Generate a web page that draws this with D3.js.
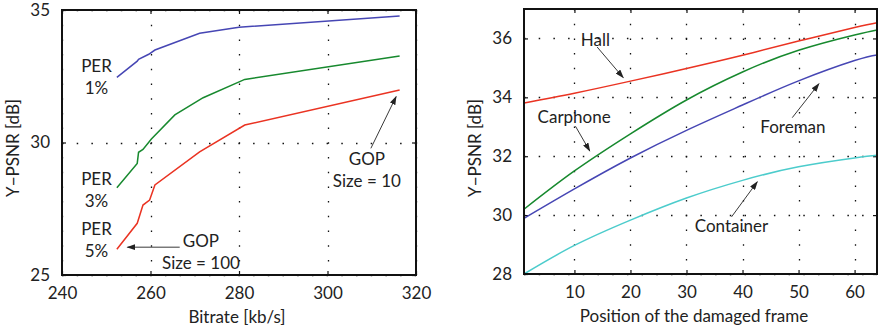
<!DOCTYPE html>
<html>
<head>
<meta charset="utf-8">
<script src="https://cdn.jsdelivr.net/npm/d3@7"></script>
<style>
  body { margin: 0; background: #fff; }
  text { font-family: Lato, "Open Sans", sans-serif; fill: #222; }
</style>
</head>
<body>
<div id="chart"></div>
<script>
// left panel data: bitrate vs PSNR for three packet error rates
const bitrateTicks = [240, 260, 280, 300, 320];
const psnrTicksLeft = [25, 30, 35];
const per1Rate = [252.4, 257.0, 257.3, 259.6, 261.0, 271.1, 280.0, 316.3];
const per1Psnr = [32.46, 33.07, 33.14, 33.33, 33.49, 34.12, 34.35, 34.77];
const per3Rate = [252.4, 257.0, 257.3, 258.3, 260.2, 265.5, 271.9, 281.3, 316.3];
const per3Psnr = [28.29, 29.21, 29.63, 29.74, 30.13, 31.04, 31.69, 32.38, 33.26];
const per5Rate = [252.4, 257.0, 258.3, 259.8, 261.0, 271.1, 281.3, 316.3];
const per5Psnr = [25.97, 26.95, 27.64, 27.83, 28.40, 29.65, 30.66, 31.98];

// right panel data: position of damaged frame vs PSNR
const frameTicks = [10, 20, 30, 40, 50, 60];
const psnrTicksRight = [28, 30, 32, 34, 36];
const framePos = [1, 10, 20, 30, 40, 50, 60, 64];
const hall = [33.81, 34.14, 34.55, 34.98, 35.43, 35.91, 36.37, 36.53];
const carphone = [30.20, 31.50, 32.76, 33.91, 34.86, 35.60, 36.12, 36.29];
const foreman = [29.89, 30.89, 31.94, 32.88, 33.74, 34.56, 35.25, 35.44];
const container = [28.00, 28.97, 29.83, 30.58, 31.18, 31.64, 31.94, 32.03];

const width = 879, height = 332;
const svg = d3.select("#chart").append("svg")
  .attr("width", width).attr("height", height);

svg.append("defs").append("marker")
  .attr("id", "arrow")
  .attr("markerUnits", "userSpaceOnUse")
  .attr("markerWidth", 9).attr("markerHeight", 6)
  .attr("refX", 8).attr("refY", 3)
  .attr("orient", "auto")
  .append("path").attr("d", "M0,0 L9,3 L0,6 Z").attr("fill", "#222");

function panel(opt) {
  const x = d3.scaleLinear().domain(opt.xDomain).range(opt.xRange);
  const y = d3.scaleLinear().domain(opt.yDomain).range(opt.yRange);
  const g = svg.append("g");
  const [x0, x1] = opt.xRange, [y1, y0] = opt.yRange;

  // dotted grid
  g.selectAll(".vgrid").data(opt.xTicks).join("line")
    .attr("x1", d => Math.round(x(d)) + 0.5).attr("x2", d => Math.round(x(d)) + 0.5)
    .attr("y1", y0).attr("y2", y1)
    .attr("stroke", "#111").attr("stroke-width", 1.3)
    .attr("stroke-dasharray", "1.5,13.2");
  g.selectAll(".hgrid").data(opt.yTicks).join("line")
    .attr("y1", d => Math.round(y(d)) + 0.5).attr("y2", d => Math.round(y(d)) + 0.5)
    .attr("x1", x0).attr("x2", x1)
    .attr("stroke", "#111").attr("stroke-width", 1.3)
    .attr("stroke-dasharray", "1.5,13.2");

  // axes with inward ticks on all four sides
  const fmt = d3.format("d");
  g.append("g").attr("transform", `translate(0,${y1})`)
    .call(d3.axisBottom(x).tickValues(opt.xTicks).tickSize(-4).tickPadding(12).tickFormat(fmt))
    .call(a => a.select(".domain").remove());
  g.append("g").attr("transform", `translate(0,${y0})`)
    .call(d3.axisTop(x).tickValues(opt.xTicks).tickSize(-4).tickFormat(""))
    .call(a => a.select(".domain").remove());
  g.append("g").attr("transform", `translate(${x0},0)`)
    .call(d3.axisLeft(y).tickValues(opt.yTicks).tickSize(-4).tickPadding(12).tickFormat(fmt))
    .call(a => a.select(".domain").remove());
  g.append("g").attr("transform", `translate(${x1},0)`)
    .call(d3.axisRight(y).tickValues(opt.yTicks).tickSize(-4).tickFormat(""))
    .call(a => a.select(".domain").remove());
  g.selectAll(".tick line").attr("stroke", "#111").attr("stroke-width", 1.2);
  g.selectAll(".tick text").attr("font-size", 17).attr("fill", "#222")
    .attr("font-family", "Lato, 'Open Sans', sans-serif");

  // curves
  opt.series.forEach(s => {
    const pts = s.x.map((v, i) => [v, s.y[i]]);
    g.append("path")
      .attr("d", d3.line().x(d => x(d[0])).y(d => y(d[1])).curve(opt.curve)(pts))
      .attr("fill", "none").attr("stroke", s.color).attr("stroke-width", 1.5);
  });

  // box
  g.append("rect").attr("x", x0).attr("y", y0)
    .attr("width", x1 - x0).attr("height", y1 - y0)
    .attr("fill", "none").attr("stroke", "#111").attr("stroke-width", 2);

  // annotations
  opt.notes.forEach(n => {
    const t = g.append("text").attr("text-anchor", "middle").attr("font-size", 17);
    n.lines.forEach((l, i) => t.append("tspan")
      .attr("x", x(n.at[0])).attr("y", y(n.at[1]) + i * 22).text(l));
    if (n.arrow) {
      g.append("line")
        .attr("x1", x(n.arrow[0])).attr("y1", y(n.arrow[1]))
        .attr("x2", x(n.arrow[2])).attr("y2", y(n.arrow[3]))
        .attr("stroke", "#222").attr("stroke-width", 0.9)
        .attr("marker-end", "url(#arrow)");
    }
  });

  // axis titles
  svg.append("text").attr("text-anchor", "middle").attr("font-size", 17)
    .attr("x", opt.xTitlePos[0]).attr("y", opt.xTitlePos[1]).text(opt.xTitle);
  svg.append("text").attr("text-anchor", "middle").attr("font-size", 17)
    .attr("transform", `translate(${opt.yTitlePos[0]},${opt.yTitlePos[1]}) rotate(-90)`)
    .text(opt.yTitle);
}

panel({
  xDomain: [240, 320], xRange: [62, 416],
  yDomain: [25, 35], yRange: [275, 10],
  xTicks: bitrateTicks, yTicks: psnrTicksLeft,
  curve: d3.curveLinear,
  series: [
    { x: per1Rate, y: per1Psnr, color: "#4646b4" },
    { x: per3Rate, y: per3Psnr, color: "#17892e" },
    { x: per5Rate, y: per5Psnr, color: "#ea3322" }
  ],
  notes: [
    { lines: ["PER", "1%"], at: [247.8, 32.67] },
    { lines: ["PER", "3%"], at: [247.8, 28.40] },
    { lines: ["PER", "5%"], at: [247.8, 26.51] },
    { lines: ["GOP", "Size = 100"], at: [271.4, 26.07], arrow: [266.6, 26.05, 254.8, 26.05] },
    { lines: ["GOP", "Size = 10"], at: [308.9, 29.15], arrow: [309.8, 29.78, 315.5, 31.73] }
  ],
  xTitle: "Bitrate [kb/s]", xTitlePos: [237, 323],
  yTitle: "Y\u2212PSNR [dB]", yTitlePos: [19, 148]
});

panel({
  xDomain: [1, 64], xRange: [524, 877],
  yDomain: [28, 37], yRange: [274, 9],
  xTicks: frameTicks, yTicks: psnrTicksRight,
  curve: d3.curveNatural,
  series: [
    { x: framePos, y: hall, color: "#ea3322" },
    { x: framePos, y: carphone, color: "#17892e" },
    { x: framePos, y: foreman, color: "#4646b4" },
    { x: framePos, y: container, color: "#4ccccc" }
  ],
  notes: [
    { lines: ["Hall"], at: [13.75, 35.76], arrow: [14.05, 35.71, 18.7, 34.67] },
    { lines: ["Carphone"], at: [9.95, 33.14], arrow: [10.18, 33.02, 12.73, 32.18] },
    { lines: ["Foreman"], at: [49.0, 32.79], arrow: [48.88, 33.31, 53.63, 34.46] },
    { lines: ["Container"], at: [38.04, 29.41], arrow: [38.04, 29.94, 42.63, 31.13] }
  ],
  xTitle: "Position of the damaged frame", xTitlePos: [694, 322],
  yTitle: "Y\u2212PSNR [dB]", yTitlePos: [481, 148]
});
</script>
</body>
</html>
